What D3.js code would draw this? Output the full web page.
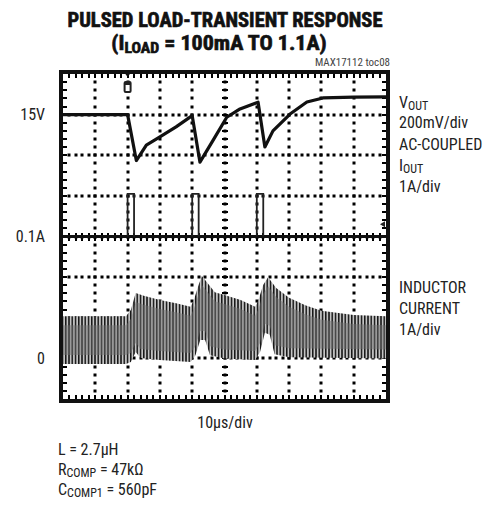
<!DOCTYPE html>
<html><head><meta charset="utf-8">
<script src="https://cdn.jsdelivr.net/npm/d3@7"></script>
<style>
body{margin:0;background:#fff}
svg{display:block}
text{font-family:"Liberation Sans Narrow","Arial Narrow","Roboto Condensed","DejaVu Sans Condensed",sans-serif;fill:#222}
</style>
</head><body>
<svg id="c" width="498" height="518"></svg>
<script>
// ---------- data ----------
const timeDomain = [0, 100];
const divDomain = [0, 8];
const vTime  = [0, 20, 22.7, 25.8, 30, 35, 40, 42.4, 46.4, 50.7, 54.8, 60.4, 62.5, 65, 70.3, 75.5, 80.5, 90, 100];
const vOutMV = [0, 0, -226, -150, -110, -60, -5, -234, -128, -13, 28, 61, -159, -80, 3, 62, 82, 86, 87];
const pulseStart = [20, 40, 60];
const pulseEnd   = [22, 42, 62];
const iOutBase = 0.1;
const iOutPeak = 1.15;
const ilUpTime = [0, 19.5, 21, 22.5, 25, 30, 35, 39.5, 40.5, 42, 43, 44.5, 47, 50, 55, 59.5, 60.5, 62, 63.5, 66, 70, 75, 80, 90, 100];
const ilUpper  = [1.04, 1.04, 1.19, 1.61, 1.54, 1.44, 1.36, 1.27, 1.44, 1.81, 2.03, 1.88, 1.63, 1.56, 1.44, 1.27, 1.44, 1.81, 2.00, 1.73, 1.49, 1.31, 1.17, 1.07, 1.04];
const ilLoTime = [0, 19.5, 21, 22.5, 24, 30, 39.5, 41, 42.5, 44, 45.5, 50, 59.5, 61, 62.5, 64, 65.5, 70, 100];
const ilLower  = [-0.14, -0.14, -0.09, 0.16, 0.01, -0.04, -0.09, 0.08, 0.45, 0.45, 0.08, 0.0, -0.04, 0.16, 0.63, 0.58, 0.1, 0.03, 0.0];
const levelLabels = ["15V", "0.1A", "0"];
const levelDivs   = [7, 4, 1];
const vRefDiv = 7, iRefDiv = 4, ilRefDiv = 1;

// ---------- layout ----------
const svg = d3.select("#c");
const X0 = 63, X1 = 386, Y0 = 74, Y1 = 399;
const x = d3.scaleLinear().domain(timeDomain).range([X0, X1]);
const y = d3.scaleLinear().domain(divDomain).range([Y1, Y0]);
const rx = v => Math.round(x(v)), ry = v => Math.round(y(v));

const defs = svg.append("defs");
const pat = defs.append("pattern").attr("id","ripple").attr("patternUnits","userSpaceOnUse")
  .attr("width",3.25).attr("height",10);
pat.append("rect").attr("width",3.25).attr("height",10).attr("fill","#c4c4c4");
pat.append("rect").attr("x",0).attr("width",1.5).attr("height",10).attr("fill","#151515");
defs.append("clipPath").attr("id","plotclip").append("rect")
  .attr("x",X0).attr("y",Y0).attr("width",X1-X0).attr("height",Y1-Y0);

// ---------- grid ----------
const minorD = d3.range(1, 40).map(k => k / 5);
const minorT = d3.range(1, 50).map(k => k * 2);
const gridT = d3.range(1, 10).map(k => k * 10);
const gridD = d3.range(1, 8);
const gridG = svg.append("g").attr("id","grid");
gridT.forEach(t => minorD.forEach(d => {
  gridG.append("rect").attr("x", rx(t)-1.5).attr("y", ry(d)-1.5).attr("width",3).attr("height",3).attr("fill","#000");
}));
gridD.forEach(d => minorT.forEach(t => {
  gridG.append("rect").attr("x", rx(t)-1.5).attr("y", ry(d)-1.5).attr("width",3).attr("height",3).attr("fill","#000");
}));
minorD.forEach(d => {
  gridG.append("rect").attr("x", rx(50)-3).attr("y", ry(d)-1).attr("width",6).attr("height",2).attr("fill","#000");
  gridG.append("rect").attr("x", X0).attr("y", ry(d)-1).attr("width",4).attr("height",2).attr("fill","#000");
  gridG.append("rect").attr("x", X1-4).attr("y", ry(d)-1).attr("width",4).attr("height",2).attr("fill","#000");
});
minorT.forEach(t => {
  gridG.append("rect").attr("x", rx(t)-1).attr("y", ry(4)-4).attr("width",2).attr("height",8).attr("fill","#000");
  gridG.append("rect").attr("x", rx(t)-1).attr("y", Y0).attr("width",2).attr("height",4).attr("fill","#000");
  gridG.append("rect").attr("x", rx(t)-1).attr("y", Y1-4).attr("width",2).attr("height",4).attr("fill","#000");
});

// ---------- traces ----------
const tr = svg.append("g").attr("clip-path","url(#plotclip)");
const upPts = ilUpTime.map((t,i) => [x(t), y(ilRefDiv + ilUpper[i])]);
const loPts = ilLoTime.map((t,i) => [x(t), y(ilRefDiv + ilLower[i])]);
const band = d3.line()(upPts.concat(loPts.slice().reverse())) + "Z";
tr.append("path").attr("d", band).attr("fill","url(#ripple)");
const coreUp = ilUpTime.map((t,i) => [x(t), y(ilRefDiv + ilUpper[i]) + 9]);
const coreLo = ilLoTime.map((t,i) => [x(t), y(ilRefDiv + ilLower[i]) - 9]);
tr.append("path").attr("d", d3.line()(coreUp.concat(coreLo.slice().reverse())) + "Z")
  .attr("fill","#707070").attr("opacity",0.5);

tr.append("line").attr("x1",X0).attr("x2",X1)
  .attr("y1", y(iRefDiv)).attr("y2", y(iRefDiv))
  .attr("stroke","#111").attr("stroke-width",3);
const yb = y(iRefDiv), yp = y(iRefDiv + iOutPeak - iOutBase);
tr.selectAll("path.pulse").data(pulseStart).join("path").attr("class","pulse")
  .attr("d", (s,i) => `M${x(s)},${yb}V${yp}H${x(pulseEnd[i])}V${yb}`)
  .attr("fill","none").attr("stroke","#222").attr("stroke-width",1.8);

const vLine = d3.line().x((d,i) => x(vTime[i])).y(d => y(vRefDiv + d/200));
tr.append("path").attr("d", vLine(vOutMV)).attr("fill","none")
  .attr("stroke","#111").attr("stroke-width",3.2).attr("stroke-linejoin","round");

const tx = x(pulseStart[0]);
svg.append("rect").attr("x",tx-4).attr("y",81).attr("width",8).attr("height",12).attr("rx",2).attr("fill","#222");
svg.append("rect").attr("x",tx-2).attr("y",85).attr("width",4).attr("height",6).attr("fill","#fff");
svg.append("path").attr("d",`M${tx-3},${Y0-1}L${tx+3},${Y0-1}L${tx},${Y0+3}Z`).attr("fill","#111");
svg.append("path").attr("d",`M${X1-6},${y(4.3)}L${X1-1},${y(4.3)-3}L${X1-1},${y(4.3)+3}Z`).attr("fill","#222");

svg.append("rect").attr("x",X0-2).attr("y",Y0-2).attr("width",X1-X0+4).attr("height",Y1-Y0+4)
  .attr("fill","none").attr("stroke","#111").attr("stroke-width",4);

// ---------- text ----------
svg.append("text").attr("x",225).attr("y",27).attr("text-anchor","middle")
  .attr("font-weight","bold").attr("font-size",19.5).attr("textLength",315).attr("lengthAdjust","spacingAndGlyphs")
  .style("fill","#111").style("stroke","#111").style("stroke-width",0.6).text("PULSED LOAD-TRANSIENT RESPONSE");
const t2 = svg.append("text").attr("transform","translate(219,50) scale(1.13,1)").attr("text-anchor","middle")
  .attr("font-weight","bold").attr("font-size",19.5).style("fill","#111").style("stroke","#111").style("stroke-width",0.6);
t2.append("tspan").text("(I");
t2.append("tspan").attr("font-size",14).attr("dy",3).text("LOAD");
t2.append("tspan").attr("dy",-3).text(" = 100mA TO 1.1A)");

svg.append("text").attr("x",390).attr("y",66).attr("text-anchor","end")
  .attr("font-size",11).style("fill","#444").text("MAX17112 toc08");

svg.selectAll("text.lvl").data(levelLabels).join("text").attr("class","lvl")
  .attr("x",45).attr("y",(d,i) => y(levelDivs[i])).attr("dy","0.35em").attr("text-anchor","end")
  .attr("font-size",16).text(d => d);

function sublabel(xp, yp, main, sub, rest){
  const t = svg.append("text").attr("x",xp).attr("y",yp).attr("font-size",16);
  t.append("tspan").text(main);
  t.append("tspan").attr("font-size",12).attr("dy",2).text(sub);
  if (rest) t.append("tspan").attr("dy",-2).attr("font-size",16).text(rest);
  return t;
}
const RX = 399;
sublabel(RX,108,"V","OUT");
svg.append("text").attr("x",RX).attr("y",128).attr("font-size",16).text("200mV/div");
svg.append("text").attr("x",RX).attr("y",150).attr("font-size",16).text("AC-COUPLED");
sublabel(RX,171,"I","OUT");
svg.append("text").attr("x",RX).attr("y",192).attr("font-size",16).text("1A/div");
svg.append("text").attr("x",RX).attr("y",293).attr("font-size",16).text("INDUCTOR");
svg.append("text").attr("x",RX).attr("y",314).attr("font-size",16).text("CURRENT");
svg.append("text").attr("x",RX).attr("y",335).attr("font-size",16).text("1A/div");

svg.append("text").attr("x",225).attr("y",428).attr("text-anchor","middle").attr("font-size",16).text("10µs/div");
svg.append("text").attr("x",58).attr("y",455).attr("font-size",16).text("L = 2.7µH");
sublabel(58,475,"R","COMP"," = 47kΩ");
sublabel(58,495,"C","COMP1"," = 560pF");
</script>
</body></html>
